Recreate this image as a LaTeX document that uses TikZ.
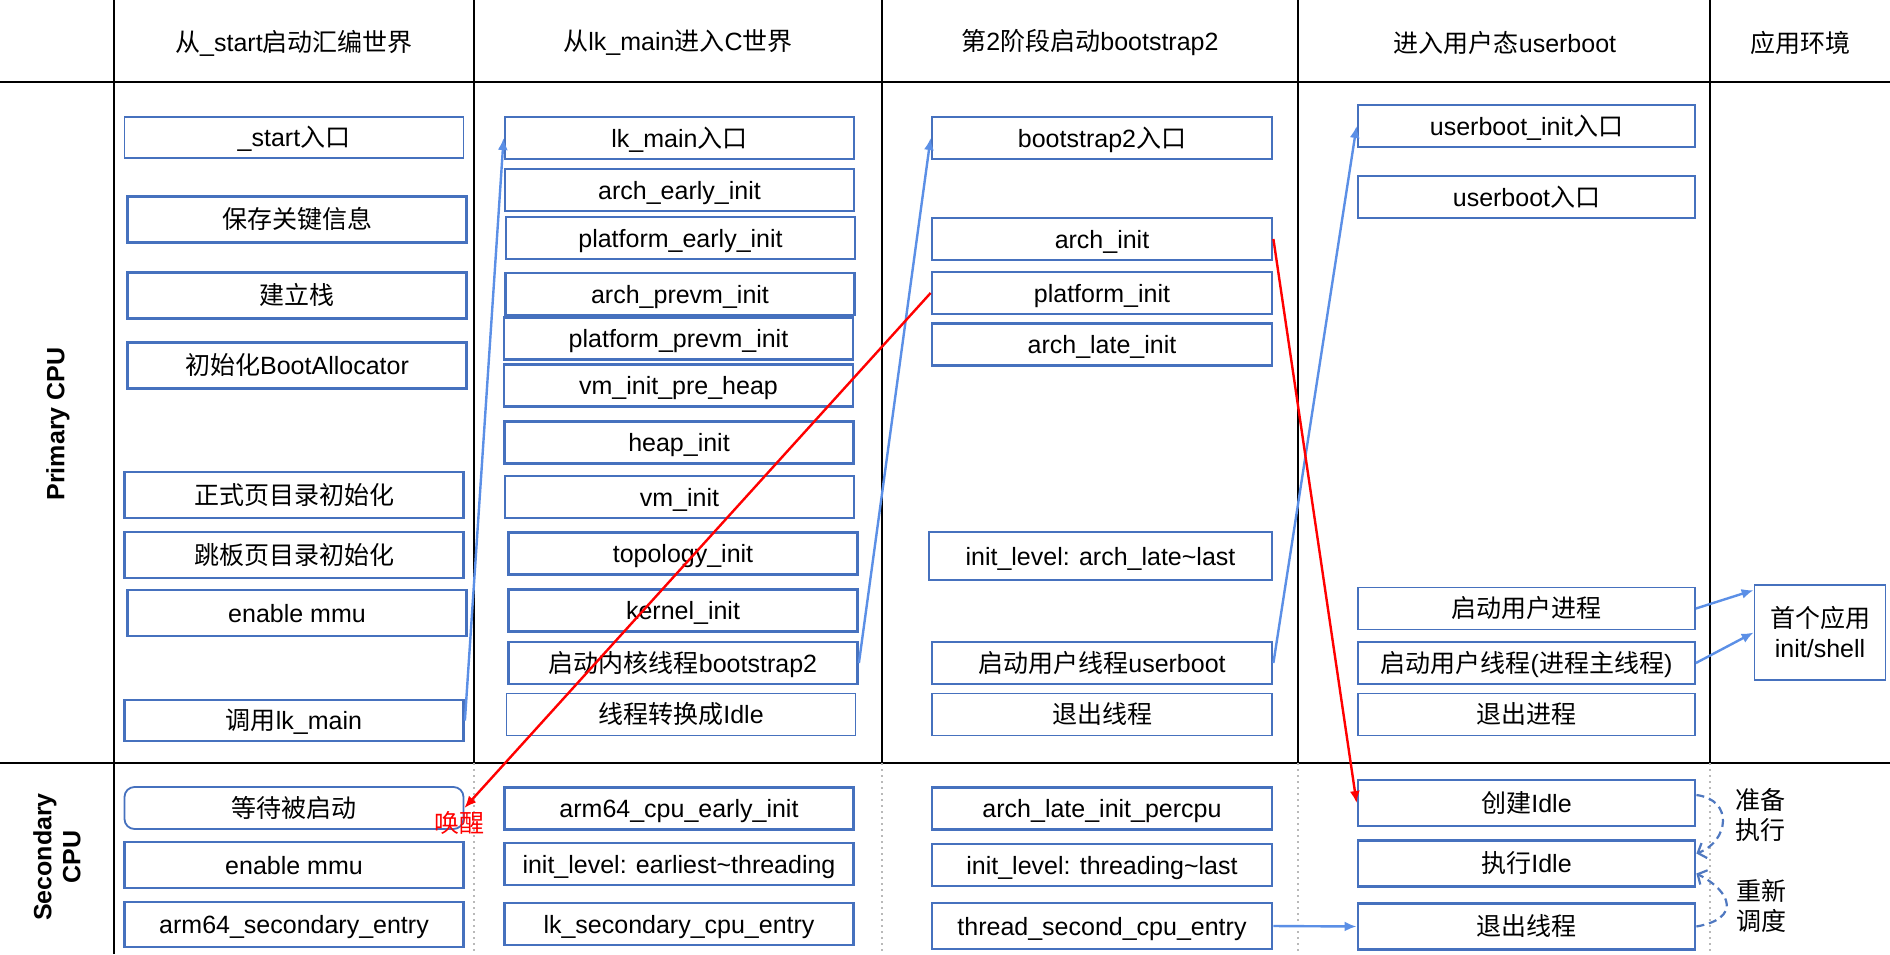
\documentclass[tikz,border=0pt]{standalone}
\usepackage{fontspec}
\setmainfont{Liberation Sans}
\newfontfamily\cjkfont{Noto Sans CJK SC}
\usetikzlibrary{arrows.meta}

% troca automatica de fonte nos ideogramas
\XeTeXinterchartokenstate=1
\newXeTeXintercharclass\cjkclass
\newcount\cjkcode
\cjkcode="4E00
\loop
  \XeTeXcharclass\cjkcode=\cjkclass
  \ifnum\cjkcode<"9FFF
  \advance\cjkcode by 1
\repeat
\XeTeXinterchartoks 0 \cjkclass = {\cjkfont}
\XeTeXinterchartoks 4095 \cjkclass = {\cjkfont}
\XeTeXinterchartoks \cjkclass 0 = {\rmfamily}
\XeTeXinterchartoks \cjkclass 4095 = {\rmfamily}

\definecolor{boxblue}{HTML}{4671BE}
\definecolor{linkblue}{HTML}{5B8FE6}
\definecolor{dashblue}{HTML}{4F78C0}

\begin{document}
\begin{tikzpicture}[
    x=0.5pt, y=-0.5pt,      % 1 unidade = 1 pixel, y para baixo
    font=\fontsize{12.5pt}{15pt}\selectfont,
    blk/.style={draw=boxblue, line width=1.4pt, fill=white, inner sep=0pt, minimum height=21pt,
                text height=9pt, text depth=0pt},
    blkthin/.style={blk, line width=0.9pt},
    appbox/.style={draw=boxblue, line width=0.9pt, fill=white, align=center},
    tall/.style={minimum height=23pt},
    col1/.style={minimum width=169.5pt},
    col2/.style={minimum width=174.5pt},
    col3/.style={minimum width=170pt},
    col4/.style={minimum width=168.5pt},
    grid/.style={draw=black, line width=1pt},
    sepdot/.style={draw=gray!55, line width=1pt, dotted},
    barrow/.style={draw=linkblue, line width=1.2pt, -{Latex[length=6pt,width=5pt]}},
    rarrow/.style={draw=red, line width=1.2pt, -{Latex[length=6pt,width=5pt]}},
    darrow/.style={draw=dashblue, line width=1.1pt, dash pattern=on 4pt off 2.5pt, -{Straight Barb[length=3.5pt,width=8pt]}}
  ]
  \useasboundingbox (0,0) rectangle (1890,954);

  % --- GRADE ---
  \draw[grid] (0,82) -- (1890,82);
  \draw[grid] (0,763) -- (1890,763);
  \draw[grid] (114,0) -- (114,954);
  \foreach \x in {474,882,1298,1710} {
    \draw[grid] (\x,0) -- (\x,763);
    \draw[sepdot] (\x,763) -- (\x,954);
  }

  % --- CABECALHOS ---
  \node (h1) at (294,43) {从\_start启动汇编世界};
  \node (h2) at (678,43) {从lk\_main进入C世界};
  \node (h3) at (1090,43) {第2阶段启动bootstrap2};
  \node (h4) at (1505,43) {进入用户态userboot};
  \node (h5) at (1800,43) {应用环境};
  \node[rotate=90, font=\fontsize{12.5pt}{15pt}\selectfont\bfseries] (pcpu) at (58,424) {Primary CPU};
  \node[rotate=90, align=center, font=\fontsize{12.5pt}{14.5pt}\selectfont\bfseries] (scpu) at (57,857) {Secondary\\CPU};

  % --- COLUNA 1 ---
  \node[blkthin, col1, minimum height=20.5pt] (start) at (294,137.5) {\_start入口};
  \node[blk, col1, tall] (savekey) at (297,219.5) {保存关键信息};
  \node[blk, col1, tall] (stack) at (297,295.5) {建立栈};
  \node[blk, col1, tall] (bootalloc) at (297,365.5) {初始化BootAllocator};
  \node[blk, col1, tall] (pgdir) at (294,495) {正式页目录初始化};
  \node[blk, col1, tall] (trampo) at (294,555) {跳板页目录初始化};
  \node[blk, col1, tall] (mmu) at (297,613) {enable mmu};
  \node[blk, col1, minimum height=20.5pt] (calllk) at (294,720.5) {调用lk\_main};
  \node[blkthin, col1, rounded corners=5pt] (waitboot) at (294,808) {等待被启动};
  \node[blk, col1, tall] (secmmu) at (294,865) {enable mmu};
  \node[blk, col1, minimum height=22.5pt] (secentry) at (294,924.5) {arm64\_secondary\_entry};

  % --- COLUNA 2 ---
  \node[blk, col2] (lkmain) at (679.5,138) {lk\_main入口};
  \node[blk, col2] (archearly) at (679.5,190) {arch\_early\_init};
  \node[blk, col2] (platearly) at (680.5,238) {platform\_early\_init};
  \node[blk, col2] (archprevm) at (680,294) {arch\_prevm\_init};
  \node[blk, col2] (platprevm) at (678.5,338.5) {platform\_prevm\_init};
  \node[blk, col2] (vmpre) at (678.5,385.5) {vm\_init\_pre\_heap};
  \node[blk, col2] (heapinit) at (679,442.5) {heap\_init};
  \node[blk, col2] (vminit) at (679.5,497) {vm\_init};
  \node[blk, col2] (topo) at (683,553.5) {topology\_init};
  \node[blk, col2] (kinit) at (683,610.5) {kernel\_init};
  \node[blk, col2] (bs2thread) at (683,663) {启动内核线程bootstrap2};
  \node[blkthin, col2] (toidle) at (681,714.5) {线程转换成Idle};
  \node[blk, col2] (cpuearly) at (679,808.5) {arm64\_cpu\_early\_init};
  \node[blk, col2] (lvlthread) at (679,864) {init\_level: earliest\textasciitilde threading};
  \node[blk, col2] (lksec) at (679,924) {lk\_secondary\_cpu\_entry};

  % --- COLUNA 3 ---
  \node[blk, col3] (bs2entry) at (1102,138) {bootstrap2入口};
  \node[blk, col3] (archinit) at (1102,239) {arch\_init};
  \node[blk, col3] (platinit) at (1102,293) {platform\_init};
  \node[blk, col3] (archlate) at (1102,344.5) {arch\_late\_init};
  \node[blk, col3, minimum width=171.5pt, minimum height=24pt] (lvllate) at (1100.5,556) {init\_level: arch\_late\textasciitilde last};
  \node[blk, col3] (ubthread) at (1102,663) {启动用户线程userboot};
  \node[blkthin, col3] (exitthr) at (1102,714.5) {退出线程};
  \node[blk, col3] (latepercpu) at (1102,808.5) {arch\_late\_init\_percpu};
  \node[blk, col3] (lvllast) at (1102,865) {init\_level: threading\textasciitilde last};
  \node[blk, col3, tall] (secondentry) at (1102,926) {thread\_second\_cpu\_entry};

  % --- COLUNA 4 ---
  \node[blk, col4] (ubinit) at (1526.5,126) {userboot\_init入口};
  \node[blk, col4] (ubentry) at (1526.5,197) {userboot入口};
  \node[blkthin, col4] (userproc) at (1526.5,608.5) {启动用户进程};
  \node[blkthin, col4] (userthr) at (1526.5,663) {启动用户线程(进程主线程)};
  \node[blkthin, col4] (exitproc) at (1526.5,714.5) {退出进程};
  \node[blk, col4, tall] (mkidle) at (1526.5,803) {创建Idle};
  \node[blk, col4, tall] (runidle) at (1526.5,863.5) {执行Idle};
  \node[blk, col4, tall] (exitthr2) at (1526.5,926.5) {退出线程};

  % --- COLUNA 5 ---
  \node[appbox, minimum width=65.5pt, minimum height=47.5pt] (firstapp) at (1820,632.5) {首个应用\\init/shell};

  % --- ROTULOS ---
  \node[text=red] (wake) at (459,823) {唤醒};
  \node[align=center] (prep) at (1760,815) {准备\\执行};
  \node[align=center] (resch) at (1761,906) {重新\\调度};

  % --- LIGACOES ---
  \path (calllk.east) edge[barrow] (lkmain.west);
  \path (bs2thread.east) edge[barrow] (bs2entry.west);
  \path (ubthread.east) edge[barrow] (ubinit.west);
  \path (userproc.east) edge[barrow] ([yshift=-3pt]firstapp.north west);
  \path (userthr.east) edge[barrow] (firstapp.west);
  \path (secondentry.east) edge[barrow] (exitthr2.west);
  \path (platinit.west) edge[rarrow] (waitboot.east);
  \path (archinit.east) edge[rarrow] (mkidle.west);

  % troca de estado do Idle
  \draw[darrow] ([yshift=4pt]mkidle.east) .. controls +(38,5) and +(32,-12) .. ([yshift=5pt]runidle.east);
  \draw[darrow] (exitthr2.east) .. controls +(45,-8) and +(35,18) .. ([yshift=-5pt]runidle.east);

\end{tikzpicture}
\end{document}
